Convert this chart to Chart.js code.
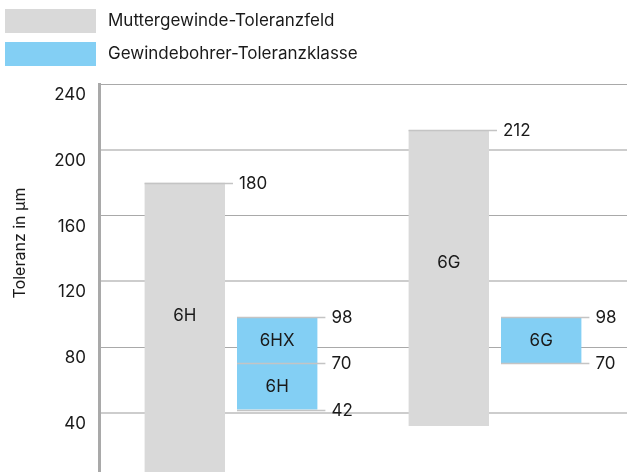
<!DOCTYPE html>
<html>
<head>
<meta charset="utf-8">
<script src="https://cdn.jsdelivr.net/npm/chart.js@4"></script>
<style>
  html, body { margin: 0; padding: 0; background: #fff; }
  canvas { display: block; }
</style>
</head>
<body>
<canvas id="chart" width="627" height="472"></canvas>
<script>
// thread classes (nut tolerance field vs. tap tolerance class), values in µm
const groups = ['6H', '6G'];
const nutLow = [0, 32];
const nutHigh = [180, 212];
const nutNames = ['6H', '6G'];
const tapUpperLow = [70, 70];
const tapUpperHigh = [98, 98];
const tapUpperNames = ['6HX', '6G'];
const tapLowerLow = [42, null];
const tapLowerHigh = [70, null];
const tapLowerNames = ['6H', ''];
const yTicks = [40, 80, 120, 160, 200, 240];

const FONT = 'Inter, "Liberation Sans", Arial, sans-serif';
const TEXT = '#1a1a1a';
const GREY = '#d9d9d9';
const BLUE = '#83cff4';

function ranges(lo, hi) {
    return lo.map((v, i) => (v === null ? null : [v, hi[i]]));
}

// legend stacked in two rows at the top left
const legendRows = {
    id: 'legendRows',
    afterDraw(chart) {
        const ctx = chart.ctx;
        ctx.save();
        ctx.font = '17px ' + FONT;
        ctx.textAlign = 'left';
        ctx.textBaseline = 'middle';
        chart.data.datasets.slice(0, 2).forEach((ds, i) => {
            const top = 9 + i * 33;
            ctx.fillStyle = ds.backgroundColor;
            ctx.fillRect(5, top, 91, 24);
            ctx.fillStyle = TEXT;
            ctx.fillText(ds.label, 108, top + 12);
        });
        ctx.restore();
    }
};

// leader lines, value labels and names inside the bars
const annotate = {
    id: 'annotate',
    afterDraw(chart) {
        const ctx = chart.ctx;
        const y = chart.scales.y;
        ctx.save();
        ctx.font = '17px ' + FONT;
        ctx.fillStyle = TEXT;
        chart.data.datasets.forEach((ds, di) => {
            const meta = chart.getDatasetMeta(di);
            meta.data.forEach((bar, i) => {
                const r = ds.data[i];
                if (!r) return;
                const left = bar.x - bar.width / 2;
                const right = bar.x + bar.width / 2;
                let edges = ds.tap ? [r[1], r[0]] : [r[1]];
                // the lower tap box shares its top edge with the upper one
                if (di === 2) edges = [r[0]];
                edges.forEach(v => {
                    const py = Math.round(y.getPixelForValue(v)) + 0.5;
                    ctx.strokeStyle = '#c4c4c4';
                    ctx.lineWidth = 1.5;
                    ctx.beginPath();
                    ctx.moveTo(left, py);
                    ctx.lineTo(right + 8, py);
                    ctx.stroke();
                    ctx.textAlign = 'left';
                    ctx.textBaseline = 'middle';
                    ctx.fillText(String(v), right + 14, py);
                });
                const name = ds.names[i];
                if (!name) return;
                const mid = ds.tap ? (r[0] + r[1]) / 2 : r[0] + 0.55 * (r[1] - r[0]);
                ctx.textAlign = 'center';
                ctx.textBaseline = 'middle';
                ctx.fillText(name, bar.x, y.getPixelForValue(mid));
            });
        });
        // axis title
        ctx.translate(20, 243);
        ctx.rotate(-Math.PI / 2);
        ctx.font = '16px ' + FONT;
        ctx.textAlign = 'center';
        ctx.textBaseline = 'middle';
        ctx.fillText('Toleranz in µm', 0, 0);
        ctx.restore();
    }
};

const gridColors = ['#cdcdcd', '#a9a9a9', '#cdcdcd', '#a9a9a9', '#cdcdcd', '#a9a9a9'];
const gridWidths = [2, 1, 2, 1, 2, 1];

new Chart(document.getElementById('chart'), {
    type: 'bar',
    data: {
        labels: groups,
        datasets: [
            {
                label: 'Muttergewinde-Toleranzfeld',
                data: ranges(nutLow, nutHigh),
                names: nutNames,
                backgroundColor: GREY,
                stack: 'nut'
            },
            {
                label: 'Gewindebohrer-Toleranzklasse',
                data: ranges(tapUpperLow, tapUpperHigh),
                names: tapUpperNames,
                tap: true,
                backgroundColor: BLUE,
                stack: 'tap'
            },
            {
                label: 'Gewindebohrer-Toleranzklasse',
                data: ranges(tapLowerLow, tapLowerHigh),
                names: tapLowerNames,
                tap: true,
                backgroundColor: BLUE,
                stack: 'tap'
            }
        ]
    },
    options: {
        responsive: false,
        animation: false,
        categoryPercentage: 0.7,
        barPercentage: 0.87,
        layout: { padding: { top: 84, right: 0, bottom: 0, left: 0 } },
        scales: {
            x: {
                display: false,
                stacked: true
            },
            y: {
                stacked: false,
                min: 4,
                max: 240,
                z: 1,
                afterBuildTicks: scale => {
                    scale.ticks = yTicks.map(v => ({ value: v }));
                },
                afterFit: scale => {
                    scale.width = 99;
                    scale.paddingTop = 0;
                    scale.paddingBottom = 0;
                },
                border: { color: '#a9a9a9', width: 3 },
                grid: {
                    drawTicks: false,
                    color: ctx => gridColors[ctx.index % gridColors.length],
                    lineWidth: ctx => gridWidths[ctx.index % gridWidths.length]
                },
                ticks: {
                    padding: 13,
                    labelOffset: 11,
                    color: TEXT,
                    font: { family: FONT, size: 17 }
                }
            }
        },
        plugins: {
            legend: { display: false },
            tooltip: { enabled: false }
        }
    },
    plugins: [legendRows, annotate]
});
</script>
</body>
</html>
